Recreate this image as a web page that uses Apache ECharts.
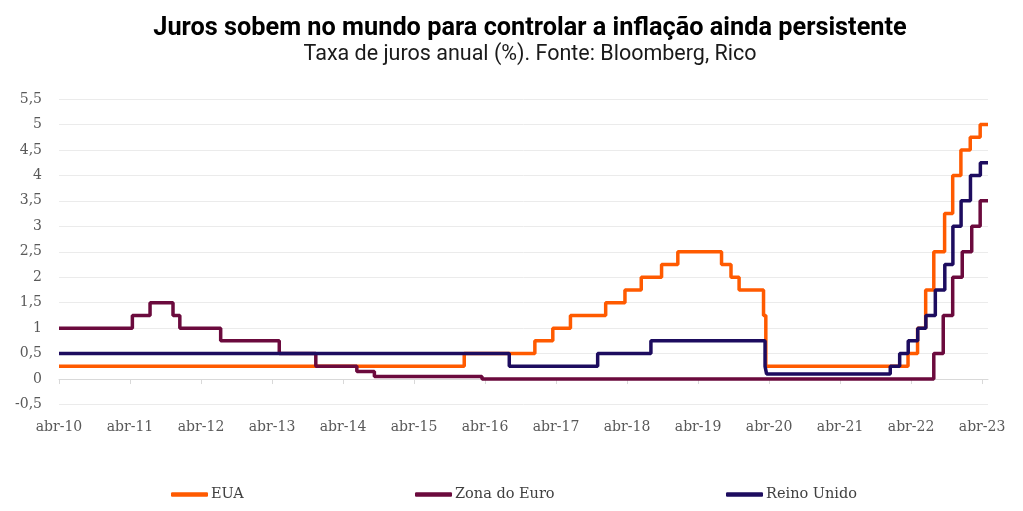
<!DOCTYPE html>
<html><head><meta charset="utf-8">
<script src="https://cdn.jsdelivr.net/npm/echarts@6/dist/echarts.min.js"></script>
<style>html,body{margin:0;padding:0;background:#fff}#c{width:1023px;height:511px}</style>
</head><body><div id="c"></div>
<script>
const chartTitle = 'Juros sobem no mundo para controlar a inflação ainda persistente';
const chartSubtitle = 'Taxa de juros anual (%). Fonte: Bloomberg, Rico';
const seriesNames = ['EUA', 'Zona do Euro', 'Reino Unido'];
const xStart = '2010-04-01';
const xEnd = '2023-05-01';
const xTickDates = ['2010-04-01','2011-04-01','2012-04-01','2013-04-01','2014-04-01','2015-04-01','2016-04-01','2017-04-01','2018-04-01','2019-04-01','2020-04-01','2021-04-01','2022-04-01','2023-04-01'];
const xTickLabels = ['abr-10','abr-11','abr-12','abr-13','abr-14','abr-15','abr-16','abr-17','abr-18','abr-19','abr-20','abr-21','abr-22','abr-23'];
const yMin = -0.5, yMax = 5.5, yStep = 0.5;

const euaDates = ['2010-04-01','2015-12-16','2016-12-14','2017-03-15','2017-06-14','2017-12-13','2018-03-21','2018-06-13','2018-09-26','2018-12-19','2019-07-31','2019-09-18','2019-10-30','2020-03-03','2020-03-15','2022-03-16','2022-05-04','2022-06-15','2022-07-27','2022-09-21','2022-11-02','2022-12-14','2023-02-01','2023-03-22','2023-05-01'];
const euaValues = [0.25,0.5,0.75,1.0,1.25,1.5,1.75,2.0,2.25,2.5,2.25,2.0,1.75,1.25,0.25,0.5,1.0,1.75,2.5,3.25,4.0,4.5,4.75,5.0,5.0];

const euroDates = ['2010-04-01','2011-04-13','2011-07-13','2011-11-09','2011-12-14','2012-07-11','2013-05-08','2013-11-13','2014-06-11','2014-09-10','2016-03-16','2022-07-27','2022-09-14','2022-11-02','2022-12-21','2023-02-08','2023-03-22','2023-05-01'];
const euroValues = [1.0,1.25,1.5,1.25,1.0,0.75,0.5,0.25,0.15,0.05,0.0,0.5,1.25,2.0,2.5,3.0,3.5,3.5];

const ukDates = ['2010-04-01','2016-08-04','2017-11-02','2018-08-02','2020-03-11','2020-03-19','2021-12-16','2022-02-03','2022-03-17','2022-05-05','2022-06-16','2022-08-04','2022-09-22','2022-11-03','2022-12-15','2023-02-02','2023-03-23','2023-05-01'];
const ukValues = [0.5,0.25,0.5,0.75,0.25,0.1,0.25,0.5,0.75,1.0,1.25,1.75,2.25,3.0,3.5,4.0,4.25,4.25];

const colors = ['#FF5A00', '#6B0A3D', '#1D0C5F'];
// convert a date string to months elapsed since xStart (fractional)
const toM = s => {
  const p = s.split('-').map(Number), b = xStart.split('-').map(Number);
  const dim = new Date(p[0], p[1], 0).getDate();
  return (p[0] - b[0]) * 12 + (p[1] - b[1]) + (p[2] - 1) / dim;
};
const zip = (d, v) => d.map((x, i) => [toM(x), v[i]]);
const tickVals = xTickDates.map(toM);
const labelFor = v => { const i = tickVals.findIndex(t => Math.abs(t - v) < 1e-6); return i >= 0 ? xTickLabels[i] : ''; };

const serifFont = 'DejaVu Serif';
const chart = echarts.init(document.getElementById('c'));
const mkSeries = (name, d, v, color, z) => ({
  name, type: 'line', step: 'end', data: zip(d, v), showSymbol: false, symbol: 'none',
  lineStyle: { color, width: 3.5 }, itemStyle: { color }, z,
  emphasis: { disabled: true }, xAxisIndex: 0, yAxisIndex: 0
});
const legendBase = (name, left) => ({
  data: [name], left, top: 487, padding: 0, icon: 'roundRect', itemWidth: 37, itemHeight: 4.5,
  textStyle: { fontFamily: serifFont, fontSize: 14.5, color: '#404040', padding: [0,0,0,-2] },
  selectedMode: false
});
chart.setOption({
  animation: false,
  backgroundColor: '#fff',
  title: {
    text: chartTitle, subtext: chartSubtitle, left: 525, textAlign: 'center', top: 11, itemGap: 3,
    textStyle: { fontFamily: 'Roboto', fontWeight: 'bold', fontSize: 25.3, color: '#000' },
    subtextStyle: { fontFamily: 'Roboto', fontSize: 21.5, color: '#1a1a1a' }
  },
  legend: [legendBase(seriesNames[0], 171), legendBase(seriesNames[1], 415), legendBase(seriesNames[2], 726)],
  grid: { left: 59, right: 35, top: 99, bottom: 106.5, containLabel: false },
  xAxis: [{
    type: 'value', min: toM(xStart), max: toM(xEnd), position: 'bottom',
    axisLine: { show: false, onZero: false }, axisTick: { show: false }, splitLine: { show: false },
    axisLabel: {
      customValues: tickVals, margin: 16, color: '#595959', fontFamily: serifFont, fontSize: 14,
      formatter: labelFor, showMinLabel: true, showMaxLabel: true, hideOverlap: false
    }
  }, {
    type: 'value', min: toM(xStart), max: toM(xEnd), position: 'bottom',
    axisLine: { show: true, onZero: true, onZeroAxisIndex: 0, lineStyle: { color: '#d9d9d9', width: 1 } },
    axisTick: { show: true, customValues: tickVals, length: 5, lineStyle: { color: '#d9d9d9' } },
    axisLabel: { show: false }, splitLine: { show: false }
  }],
  yAxis: {
    type: 'value', min: yMin, max: yMax, interval: yStep,
    axisLine: { show: false }, axisTick: { show: false },
    splitLine: { lineStyle: { color: '#ebebeb', width: 1 } },
    axisLabel: { margin: 17, color: '#595959', fontFamily: serifFont, fontSize: 14,
      formatter: v => String(Math.round(v * 10) / 10).replace('.', ',') }
  },
  series: [
    mkSeries(seriesNames[0], euaDates, euaValues, colors[0], 2),
    mkSeries(seriesNames[1], euroDates, euroValues, colors[1], 3),
    mkSeries(seriesNames[2], ukDates, ukValues, colors[2], 4)
  ]
});
</script></body></html>
